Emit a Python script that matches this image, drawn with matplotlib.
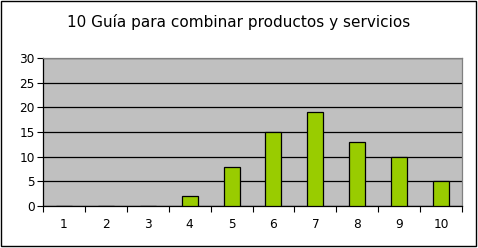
import matplotlib.pyplot as plt
import matplotlib.patches as patches
import numpy as np

title = '10 Guía para combinar productos y servicios'
categories = [1, 2, 3, 4, 5, 6, 7, 8, 9, 10]
values = [0, 0, 0, 2, 8, 15, 19, 13, 10, 5]
y_ticks = [0, 5, 10, 15, 20, 25, 30]

plt.rcParams['font.family'] = ['DejaVu Sans']

fig = plt.figure(figsize=(4.78, 2.48), dpi=100, facecolor='w')
ax = fig.add_axes([43 / 478, 42 / 248, 419 / 478, 148 / 248])
ax.set_facecolor('#C0C0C0')

ax.bar(categories, values, width=0.38, color='#99CC00', edgecolor='black', lw=0.9, zorder=3)

ax.set_xlim(0.5, 10.5)
ax.set_ylim(0, 30)
ax.set_yticks(y_ticks)
ax.yaxis.grid(True, color='black', lw=0.9, zorder=1)
ax.set_axisbelow(True)

# ticks between categories, labels at centers
ax.set_xticks(np.arange(0.5, 11, 1))
ax.set_xticklabels([])
ax.set_xticks(categories, minor=True)
ax.set_xticklabels([str(c) for c in categories], minor=True)
ax.tick_params(axis='x', which='major', direction='out', length=4, width=0.8)
ax.tick_params(axis='x', which='minor', length=0, pad=9, labelsize=8.7)
ax.tick_params(axis='y', direction='out', length=4, width=0.8, labelsize=8.7, pad=2)

for spine in ('left', 'bottom'):
    ax.spines[spine].set_color('black')
    ax.spines[spine].set_linewidth(0.9)
for spine in ('top', 'right'):
    ax.spines[spine].set_color('#808080')
    ax.spines[spine].set_linewidth(0.9)

fig.text(0.5, 1 - 22 / 248, title, ha='center', va='center', fontsize=11)

# outer chart border
fig.patches.append(patches.Rectangle((0.5 / 478, 2.5 / 248), 475 / 478, 245 / 248,
                                     transform=fig.transFigure, fill=False,
                                     edgecolor='black', lw=1.0))

plt.savefig('out.png', dpi=100)
